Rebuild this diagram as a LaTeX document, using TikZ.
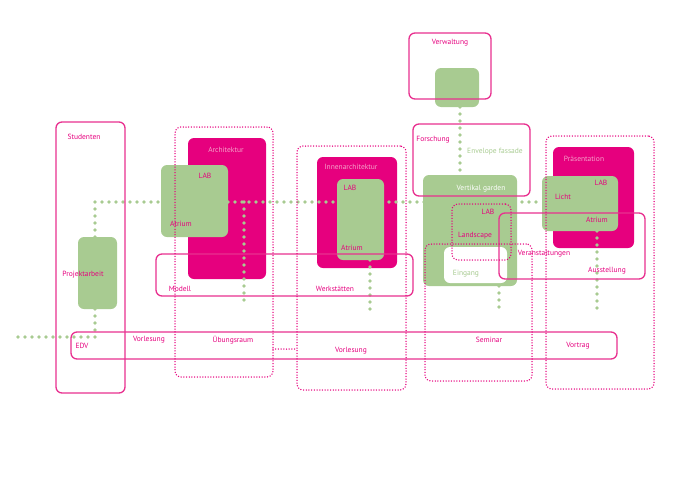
\documentclass[tikz,border=0pt]{standalone}
\usepackage{fontspec}
\setmainfont{PT Sans}
\definecolor{mag}{HTML}{E6007E}
\definecolor{magedge}{HTML}{E8308F}
\definecolor{grn}{HTML}{A8CB91}
\definecolor{lightpink}{HTML}{F5A3CA}
\pgfdeclarelayer{bg}
\pgfdeclarelayer{dots}
\pgfsetlayers{bg,dots,main}
\tikzset{
  room/.style={anchor=north west, inner sep=0pt, outer sep=0pt, rounded corners=6pt},
  magroom/.style={room, fill=mag},
  greenroom/.style={room, fill=grn},
  whiteroom/.style={room, fill=white},
  zone/.style={room, draw=magedge, line width=1.3pt},
  dotzone/.style={room, draw=mag, line width=1.5pt, dash pattern=on 0pt off 2.7pt, line cap=round},
  pinkdots/.style={draw=mag, line width=1.5pt, dash pattern=on 0pt off 2.7pt, line cap=round},
  greenline/.style={draw=grn, line width=3.6pt, dash pattern=on 0pt off 7pt, line cap=round},
  lbl/.style={text=mag, font=\fontsize{7.5}{8}\selectfont, inner sep=0pt}
}
\begin{document}
\begin{tikzpicture}[x=1pt,y=-1pt]
  \useasboundingbox (0,0) rectangle (686,485);
  % magenta departments
  \begin{pgfonlayer}{bg}
    \node[magroom, minimum width=78pt, minimum height=141pt] (archfill) at (188,138) {};
    \node[magroom, minimum width=80pt, minimum height=111pt] (innenfill) at (317,157) {};
    \node[magroom, minimum width=81pt, minimum height=101pt] (praesfill) at (553,147) {};
  \end{pgfonlayer}
  % green rooms
  \node[greenroom, minimum width=39pt, minimum height=72pt] (projekt) at (78,237) {};
  \node[greenroom, minimum width=67pt, minimum height=72pt] (archlab) at (161,165) {};
  \node[greenroom, minimum width=47pt, minimum height=81pt] (innenlab) at (337,179) {};
  \node[greenroom, minimum width=44pt, minimum height=39pt] (verwgreen) at (435,68) {};
  \node[greenroom, minimum width=94pt, minimum height=111pt] (vgarden) at (423,175) {};
  \node[greenroom, minimum width=76pt, minimum height=55pt] (praeslab) at (542,176) {};
  \node[whiteroom, minimum width=63pt, minimum height=36pt] (eingang) at (444,247) {};
  % solid zones
  \node[zone, minimum width=69pt, minimum height=271pt] (studenten) at (56,122) {};
  \node[zone, minimum width=82pt, minimum height=66pt] (verwaltung) at (409,33) {};
  \node[zone, minimum width=117pt, minimum height=72pt] (forschung) at (413,124) {};
  \node[zone, minimum width=257pt, minimum height=42pt] (modell) at (156,254) {};
  \node[zone, minimum width=546pt, minimum height=27pt] (vorlesung) at (71,332) {};
  \node[zone, minimum width=146pt, minimum height=66pt] (veranst) at (499,213) {};
  % dotted zones
  \node[dotzone, minimum width=98pt, minimum height=250pt] (archdot) at (175,127) {};
  \node[dotzone, minimum width=109pt, minimum height=244pt] (innendot) at (297,146) {};
  \node[dotzone, minimum width=107pt, minimum height=137pt] (seminardot) at (425,244) {};
  \node[dotzone, minimum width=108pt, minimum height=253pt] (praesdot) at (546,136) {};
  \node[dotzone, minimum width=59pt, minimum height=56pt] (landlab) at (452,204) {};
  \coordinate (uebung) at (285,349);
  \draw[pinkdots] (archdot.east |- uebung) -- (innendot.west |- uebung);
  % green paths
  \coordinate (hub) at (95,202);
  \coordinate (edvknee) at (95,337);
  \coordinate (edvend) at (11,337);
  \coordinate (envx) at (460,140);
  \coordinate (archend) at (244,305);
  \coordinate (innenend) at (370,314);
  \coordinate (seminarend) at (499,314);
  \coordinate (ausstend) at (597,312);
  \begin{pgfonlayer}{dots}
    \draw[greenline] (hub |- projekt.north) -- (hub) -- (praeslab.west |- hub);
    \draw[greenline] (hub |- projekt.south) -- (edvknee) -- (edvend);
    \draw[greenline] (envx |- verwgreen.south) -- (envx |- vgarden.north);
    \draw[greenline] (archend |- hub) -- (archend);
    \draw[greenline] (innenend |- innenlab.south) -- (innenend);
    \draw[greenline] (seminarend |- vgarden.south) -- (seminarend);
    \draw[greenline] (ausstend |- praeslab.south) -- (ausstend);
  \end{pgfonlayer}
  % labels
  \node[lbl] (studentenlbl) at (84,137) {Studenten};
  \node[lbl] (projektlbl) at (83,275) {Projektarbeit};
  \node[lbl, text=lightpink] (archlbl) at (226,150) {Architektur};
  \node[lbl] (archlablbl) at (205,176) {LAB};
  \node[lbl] (archatrium) at (181,224) {Atrium};
  \node[lbl] (modelllbl) at (180,289) {Modell};
  \node[lbl] (edvlbl) at (82,346) {EDV};
  \node[lbl] (vorlesunga) at (149,340) {Vorlesung};
  \node[lbl] (uebunglbl) at (233,340) {Übungsraum};
  \node[lbl] (verwlbl) at (450,43) {Verwaltung};
  \node[lbl] (forschlbl) at (433,140) {Forschung};
  \node[lbl, text=grn] (envlbl) at (495,152) {Envelope fassade};
  \node[lbl, text=lightpink] (innenlbl) at (351,167) {Innenarchitektur};
  \node[lbl] (innenlablbl) at (350,188) {LAB};
  \node[lbl] (innenatrium) at (352,248) {Atrium};
  \node[lbl, text=white] (vgardenlbl) at (481,189) {Vertikal garden};
  \node[lbl] (landlablbl) at (488,212) {LAB};
  \node[lbl] (landscapelbl) at (475,236) {Landscape};
  \node[lbl, text=grn] (eingangslbl) at (466,274) {Eingang};
  \node[lbl] (werklbl) at (335,289) {Werkstätten};
  \node[lbl] (vorlesungb) at (351,351) {Vorlesung};
  \node[lbl] (seminarlbl) at (489,340) {Seminar};
  \node[lbl] (veranstlbl) at (544,254) {Veranstaltungen};
  \node[lbl, text=lightpink] (praeslbl) at (584,159) {Präsentation};
  \node[lbl] (praeslablbl) at (601,183) {LAB};
  \node[lbl] (lichtlbl) at (563,197) {Licht};
  \node[lbl] (praesatrium) at (597,220) {Atrium};
  \node[lbl] (ausstlbl) at (607,271) {Ausstellung};
  \node[lbl] (vortraglbl) at (578,346) {Vortrag};
\end{tikzpicture}
\end{document}
